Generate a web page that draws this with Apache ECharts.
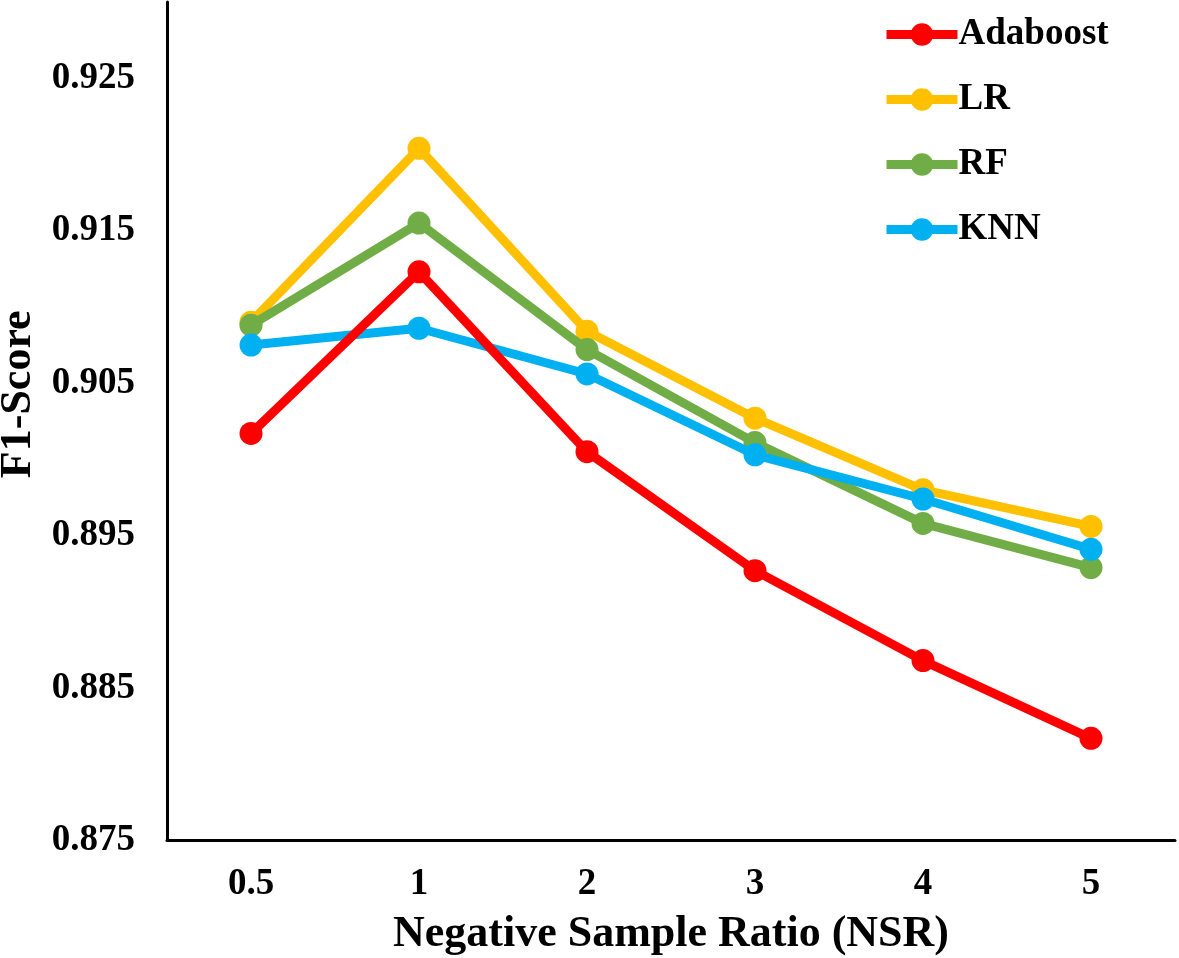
<!DOCTYPE html>
<html>
<head>
<meta charset="utf-8">
<script src="https://cdn.jsdelivr.net/npm/echarts@6/dist/echarts.min.js"></script>
<style>html,body{margin:0;padding:0;background:#fff}#c{width:1179px;height:958px}</style>
</head>
<body>
<div id="c"></div>
<script>
const categories = ['0.5', '1', '2', '3', '4', '5'];
const adaboost = [0.9017, 0.9123, 0.9005, 0.8927, 0.8868, 0.8817];
const lr       = [0.9090, 0.9204, 0.9084, 0.9027, 0.8980, 0.8956];
const rf       = [0.9088, 0.9155, 0.9072, 0.9011, 0.8958, 0.8929];
const knn      = [0.9075, 0.9086, 0.9056, 0.9003, 0.8974, 0.8941];
const yMin = 0.875, yMax = 0.93, yStep = 0.005;

const font = '"Liberation Serif", "Times New Roman", serif';
function mk(name, data, color, z) {
  return {
    name, type: 'line', data, z,
    symbol: 'circle', symbolSize: 23,
    lineStyle: { color, width: 9 },
    itemStyle: { color },
    emphasis: { disabled: true },
    animation: false
  };
}
const chart = echarts.init(document.getElementById('c'));
chart.setOption({
  backgroundColor: '#fff',
  textStyle: { fontFamily: font },
  grid: { left: 167, right: 4, top: 2, bottom: 117.5, containLabel: false, outerBoundsMode: 'none' },
  legend: {
    orient: 'vertical', left: 877, top: 11,
    itemWidth: 71, itemHeight: 28, itemGap: 28,
    data: ['Adaboost', 'LR', 'RF', 'KNN'],
    lineStyle: { width: 9 },
    textStyle: { fontFamily: font, fontWeight: 'bold', fontSize: 37, color: '#000', lineHeight: 22, padding: [0,0,0,-4] }
  },
  xAxis: {
    type: 'category', data: categories, boundaryGap: true,
    axisLine: { lineStyle: { color: '#000', width: 3 } },
    axisTick: { show: false },
    axisLabel: { fontFamily: font, fontWeight: 'bold', fontSize: 37, color: '#000', margin: 25 },
    name: 'Negative Sample Ratio (NSR)', nameLocation: 'middle', nameGap: 72,
    nameTextStyle: { fontFamily: font, fontWeight: 'bold', fontSize: 44, color: '#000' }
  },
  yAxis: {
    type: 'value', min: yMin, max: yMax, interval: yStep,
    axisLine: { show: true, lineStyle: { color: '#000', width: 3 } },
    axisTick: { show: false },
    splitLine: { show: false },
    axisLabel: {
      fontFamily: font, fontWeight: 'bold', fontSize: 37, color: '#000', margin: 32,
      formatter: v => (Math.round((v - yMin) / yStep) % 2 === 0) ? v.toFixed(3) : ''
    },
    name: 'F1-Score', nameLocation: 'middle', nameGap: 126, nameRotate: 90,
    nameTextStyle: { fontFamily: font, fontWeight: 'bold', fontSize: 44, color: '#000', padding: [0, 0, 0, 54] }
  },
  series: [
    mk('Adaboost', adaboost, '#FF0000', 5),
    mk('LR', lr, '#FFC000', 2),
    mk('RF', rf, '#70AD47', 3),
    mk('KNN', knn, '#00B0F0', 4)
  ]
});
</script>
</body>
</html>
